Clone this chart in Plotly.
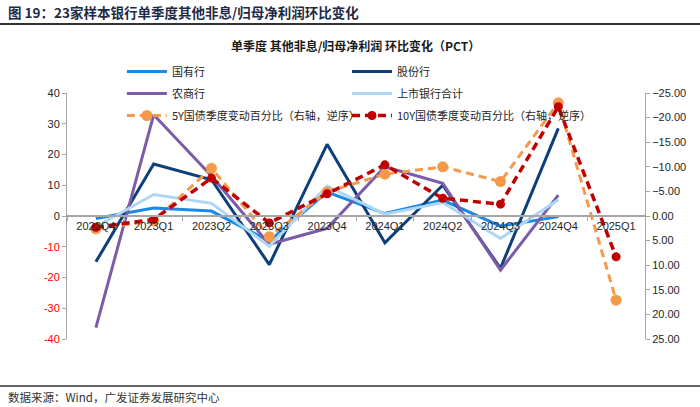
import plotly.graph_objects as go

# quarters on the x axis
quarters = ["2022Q4", "2023Q1", "2023Q2", "2023Q3", "2023Q4",
            "2024Q1", "2024Q2", "2024Q3", "2024Q4", "2025Q1"]

# left axis, pct change of other non-interest income / net profit
state_banks = [-0.8, 2.6, 1.6, -8.2, 7.8, 0.8, 5.2, -3.3, -0.2]
joint_banks = [-14.9, 16.9, 11.8, -15.8, 23.3, -8.7, 10.0, -17.0, 28.5]
rural_banks = [-36.3, 32.9, 13.0, -9.2, -4.0, 16.0, 10.6, -17.6, 6.8]
listed_total = [-3.5, 7.0, 4.1, -9.8, 9.7, 0.6, 4.4, -7.3, 5.3]

# right axis (reversed), quarterly change of government bond yields, %
bond_5y = [2.6, 1.0, -9.7, 4.2, -4.9, -8.5, -10.0, -7.0, -23.0, 17.1]
bond_10y = [2.3, 0.7, -7.7, 1.4, -4.5, -10.4, -3.6, -2.4, -22.2, 8.3]

left_ticks = [40, 30, 20, 10, 0, -10, -20, -30, -40]
right_ticks = [-25, -20, -15, -10, -5, 0, 5, 10, 15, 20, 25]

CJK = "Noto Sans CJK SC"
GRAY = "#a6a6a6"
TXT = "#262626"

W, H = 700, 407
L, R, T, B = 67, 55, 93, 68
PW, PH = W - L - R, H - T - B

fig = go.Figure()

# (name, values, colour, legend column)
lines = [
    ("国有行", state_banks, "#1a8ae6", "legend"),
    ("股份行", joint_banks, "#0d3f7a", "legend2"),
    ("农商行", rural_banks, "#7b5ca8", "legend"),
    ("上市银行合计", listed_total, "#aed6f7", "legend2"),
]
for name, vals, color, lg in lines:
    fig.add_trace(go.Scatter(
        x=quarters[:len(vals)], y=vals, name=name, mode="lines",
        line=dict(color=color, width=3), legend=lg, legendgroup=name,
    ))

fig.add_trace(go.Scatter(
    x=quarters, y=bond_5y, name="5Y国债季度变动百分比（右轴，逆序）",
    mode="lines+markers", yaxis="y2", legend="legend", legendgroup="5y",
    line=dict(color="#f5994a", width=3, dash="8px,5px"),
    marker=dict(color="#f5994a", size=11),
))
fig.add_trace(go.Scatter(
    x=quarters, y=bond_10y, name="10Y国债季度变动百分比（右轴，逆序）",
    mode="lines+markers", yaxis="y2", legend="legend2", legendgroup="10y",
    line=dict(color="#c00000", width=3.5, dash="8px,5px"),
    marker=dict(color="#c00000", size=9),
))

left_text = [str(v) if v >= 0 else f"<span style='color:#ff0000'>{v}</span>"
             for v in left_ticks]

legend_style = dict(
    orientation="v", xanchor="left", y=1 + 36 / PH, yanchor="top",
    font=dict(family=CJK, size=11, color=TXT), itemwidth=40,
    bgcolor="rgba(0,0,0,0)", tracegroupgap=3,
)

fig.update_layout(
    width=W, height=H,
    margin=dict(l=L, r=R, t=T, b=B),
    paper_bgcolor="white", plot_bgcolor="white",
    font=dict(family=f"Liberation Sans, {CJK}", size=11, color=TXT),
    showlegend=True,
    legend=dict(x=0.095, **legend_style),
    legend2=dict(x=(355 - 8 - L) / PW, **legend_style),
    xaxis=dict(
        type="category", anchor="free", position=0.5,
        showline=True, linecolor=GRAY, linewidth=1.5,
        ticks="outside", tickson="boundaries", ticklen=4, tickcolor=GRAY,
        showgrid=False, tickfont=dict(size=11, color=TXT),
        range=[-0.5, len(quarters) - 0.5],
    ),
    yaxis=dict(
        range=[-40, 40], tickvals=left_ticks, ticktext=left_text,
        showline=True, linecolor=GRAY, linewidth=1, ticks="outside",
        ticklen=4, tickcolor=GRAY, showgrid=False, zeroline=False,
        tickfont=dict(size=11, color=TXT),
    ),
    yaxis2=dict(
        overlaying="y", side="right", range=[25, -25], tickvals=right_ticks,
        tickformat=".2f", ticksuffix="%",
        showline=True, linecolor=GRAY, linewidth=1, ticks="outside",
        ticklen=4, tickcolor=GRAY, showgrid=False, zeroline=False,
        tickfont=dict(size=11, color=TXT),
    ),
)

# header, chart title and source note
fig.add_annotation(
    text="<b>图 19：23家样本银行单季度其他非息/归母净利润环比变化</b>",
    xref="paper", yref="paper", x=-(L - 6) / PW, y=1 + (T - 12) / PH,
    xanchor="left", yanchor="middle", showarrow=False,
    font=dict(family=CJK, size=13.5, color="#1f2a44"),
)
fig.add_annotation(
    text="<b>单季度 其他非息/归母净利润 环比变化（PCT）</b>",
    xref="paper", yref="paper", x=(355 - L) / PW, y=1 + (T - 45) / PH,
    xanchor="center", yanchor="middle", showarrow=False,
    font=dict(family=CJK, size=12, color="#1a1a1a"),
)
fig.add_annotation(
    text="数据来源：Wind，广发证券发展研究中心",
    xref="paper", yref="paper", x=-(L - 6) / PW, y=-(397 - (H - B)) / PH,
    xanchor="left", yanchor="middle", showarrow=False,
    font=dict(family=CJK, size=11.5, color="#333333"),
)
fig.add_shape(type="line", xref="paper", yref="paper",
              x0=-L / PW, x1=1 + R / PW, y0=1 + (T - 24) / PH, y1=1 + (T - 24) / PH,
              line=dict(color="#333333", width=1.8))
fig.add_shape(type="line", xref="paper", yref="paper",
              x0=-L / PW, x1=1 + R / PW, y0=-(386 - (H - B)) / PH, y1=-(386 - (H - B)) / PH,
              line=dict(color="#333333", width=1.5))

# drop the default 8px body margin so the figure fills the window
fig.write_html("out.html", config={"displayModeBar": False},
               post_script="document.body.style.margin='0';")
